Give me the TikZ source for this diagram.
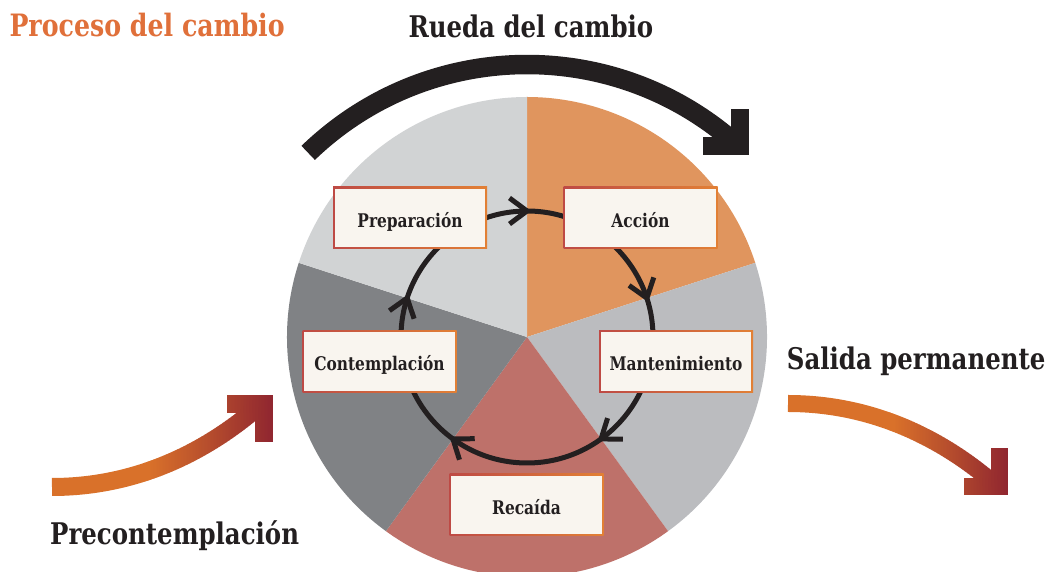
\documentclass[tikz,border=0pt]{standalone}
\usepackage{fontspec}
\setmainfont{DejaVu Serif}[FakeStretch=0.82]
\usetikzlibrary{calc}
\definecolor{ink}{HTML}{231F20}
\definecolor{wLight}{HTML}{D1D3D4}
\definecolor{wOrange}{HTML}{E0955E}
\definecolor{wMid}{HTML}{BBBCBF}
\definecolor{wDark}{HTML}{808285}
\definecolor{wRed}{HTML}{BE716A}
\definecolor{titleOrange}{HTML}{E0703A}
\definecolor{boxFill}{HTML}{F9F5EF}
\definecolor{bRed}{HTML}{BE4A45}
\definecolor{bOrange}{HTML}{E28035}
\definecolor{arrOrange}{HTML}{D9712A}
\definecolor{arrRed}{HTML}{8F2530}
\begin{document}
\begin{tikzpicture}[x=1pt,y=1pt,
  title/.style={font=\fontsize{29.8}{34}\selectfont\bfseries, inner sep=0, anchor=base west, text=ink},
  stage/.style={minimum width=154, minimum height=62, inner sep=0, text height=19, text depth=0,
    font=\fontsize{18.8}{22}\selectfont\bfseries, text=ink,
    path picture={
      \shade[left color=bRed, right color=bOrange] (path picture bounding box.south west) rectangle (path picture bounding box.north east);
      \fill[boxFill] ([shift={(1.6,1.6)}]path picture bounding box.south west) rectangle ([shift={(-1.6,-1.6)}]path picture bounding box.north east);
    }},
  chev/.style={ink, line width=5, miter limit=10},
  bigarc/.style={ink, line width=19.5},
]
\useasboundingbox (0,0) rectangle (1047,572);
\clip (0,0) rectangle (1047,572);

% wheel
\coordinate (C) at (527,235);
\fill[wOrange] (C) -- +(90:240) arc[start angle=90, end angle=18, radius=240] -- cycle;
\fill[wMid] (C) -- +(18:240) arc[start angle=18, end angle=-54, radius=240] -- cycle;
\fill[wRed] (C) -- +(-54:240) arc[start angle=-54, end angle=-126, radius=240] -- cycle;
\fill[wDark] (C) -- +(-126:240) arc[start angle=-126, end angle=-198, radius=240] -- cycle;
\fill[wLight] (C) -- +(162:240) arc[start angle=162, end angle=90, radius=240] -- cycle;

% big black arc
\coordinate (bigC) at (527,192.5);
\coordinate (bigS) at ($(bigC)+(134:315)$);
\coordinate (hb1) at (703,425.5);
\coordinate (hv) at (740,425.5);
\coordinate (hb2) at (740,463);
\draw[bigarc] (bigS) arc[start angle=134, end angle=47.5, radius=315];
\draw[ink, line width=18, miter limit=10] (hb1) -- (hv) -- (hb2);

% inner cycle
\draw[ink, line width=5] (C) circle[radius=126];
\foreach \a in {90,18,-54,-126,162}{
  \draw[chev, shift={($(C)+(\a:126)$)}, rotate=\a-90] (-17.5,13) -- (0,0) -- (-17.5,-13);
}

% stages
\node[stage] (prep) at (410,354) {Preparación};
\node[stage] (acc) at (640.5,354) {Acción};
\node[stage] (mant) at (676,210.5) {Mantenimiento};
\node[stage] (rec) at (526.5,67) {Recaída};
\node[stage] (cont) at (379.5,210.5) {Contemplación};

% left gradient arrow
\coordinate (la0) at (52,85);
\coordinate (la1) at (258,165);
\coordinate (lv) at (264,168);
\coordinate (lb1) at (227,168);
\coordinate (lb2) at (264,130);
\begin{scope}
  \clip (0,0) rectangle (145.3,572);
  \draw[arrOrange, line width=18] (la0) .. controls (130,85) and (200,115) .. (la1);
\end{scope}
\foreach \i in {0,...,45}{
  \pgfmathsetmacro\xa{145+3*\i}
  \pgfmathsetmacro\pc{min(100,max(0,(\xa+1.5-150)/(275-150)*100))}
  \begin{scope}
    \clip (\xa-0.3,0) rectangle (\xa+3.3,572);
    \draw[arrRed!\pc!arrOrange, line width=18] (la0) .. controls (130,85) and (200,115) .. (la1);
    \draw[arrRed!\pc!arrOrange, line width=18, miter limit=10] (lb1) -- (lv) -- (lb2);
  \end{scope}
}

% right gradient arrow
\coordinate (ra0) at (788,168.5);
\coordinate (ra1) at (994,88.5);
\coordinate (rv) at (999,85.5);
\coordinate (rb1) at (964,85.5);
\coordinate (rb2) at (999,124);
\begin{scope}
  \clip (700,0) rectangle (890.3,572);
  \draw[arrOrange, line width=17] (ra0) .. controls (866,168.5) and (936,138.5) .. (ra1);
\end{scope}
\foreach \i in {0,...,43}{
  \pgfmathsetmacro\xa{890+3*\i}
  \pgfmathsetmacro\pc{min(100,max(0,(\xa+1.5-895)/(1010-895)*100))}
  \begin{scope}
    \clip (\xa-0.3,0) rectangle (\xa+3.3,572);
    \draw[arrRed!\pc!arrOrange, line width=17] (ra0) .. controls (866,168.5) and (936,138.5) .. (ra1);
    \draw[arrRed!\pc!arrOrange, line width=17, miter limit=10] (rb1) -- (rv) -- (rb2);
  \end{scope}
}

% titles
\node[title, text=titleOrange, font=\fontsize{30.8}{34}\selectfont\bfseries] (t1) at (9.3,535.3) {Proceso del cambio};
\node[title] (t2) at (408.3,534.7) {Rueda del cambio};
\node[title] (t3) at (786.7,202.7) {Salida permanente};
\node[title] (t4) at (50,27) {Precontemplación};
\end{tikzpicture}
\end{document}
